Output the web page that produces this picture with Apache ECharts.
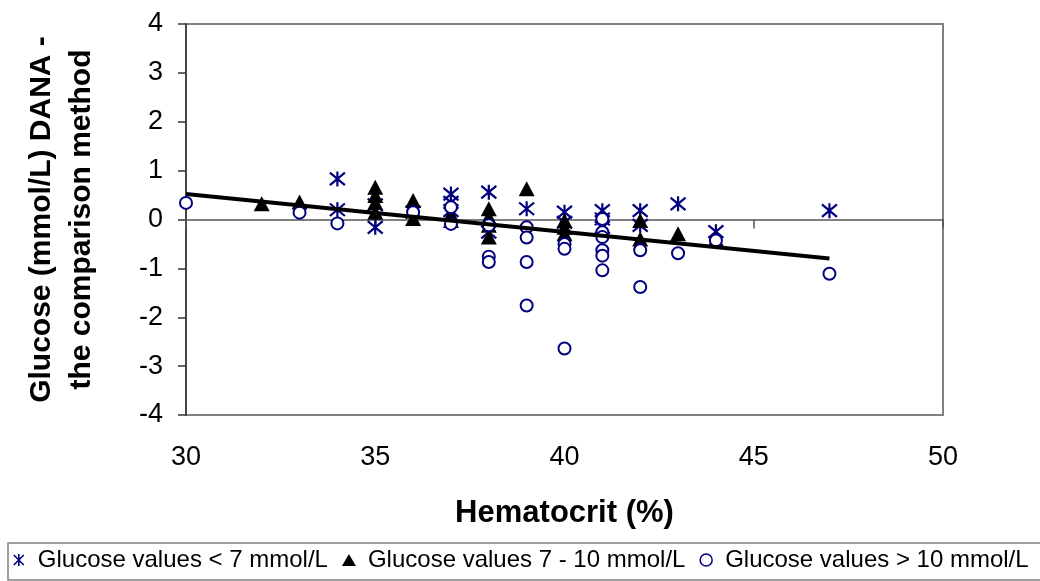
<!DOCTYPE html>
<html>
<head>
<meta charset="utf-8">
<script src="https://cdn.jsdelivr.net/npm/echarts@6/dist/echarts.min.js"></script>
<style>
html,body{margin:0;padding:0;background:#fff;}
#chart{width:1040px;height:581px;}
</style>
</head>
<body>
<div id="chart"></div>
<script>
// Hematocrit (%) vs glucose difference (mmol/L)
var seriesNames = ['Glucose values < 7 mmol/L', 'Glucose values 7 - 10 mmol/L', 'Glucose values > 10 mmol/L'];
var xTicks = [30, 35, 40, 45, 50];
var yTicks = [-4, -3, -2, -1, 0, 1, 2, 3, 4];

var lowGlucose = [
  [34, 0.83], [34, 0.2], [35, -0.16], [35, 0.3], [36, 0.15], [37, 0.52], [37, 0.35], [37, 0.18],
  [38, 0.56], [38, -0.26], [39, 0.22], [40, 0.15], [40, -0.06], [41, 0.18], [41, 0.01], [41, -0.16],
  [42, 0.18], [42, -0.12], [43, 0.32], [44, -0.25], [47, 0.18]
];
var midGlucose = [
  [32, 0.32], [33, 0.36], [35, 0.66], [35, 0.49], [35, 0.35], [35, 0.15], [36, 0.39], [36, 0.18], [36, 0.02],
  [37, 0.1], [37, -0.02], [38, 0.22], [38, 0.05], [38, -0.12], [38, -0.36], [39, 0.63],
  [40, -0.02], [40, -0.16], [40, -0.29], [42, -0.02], [42, -0.4], [43, -0.29], [44, -0.4]
];
var highGlucose = [
  [30, 0.34], [33, 0.14], [34, -0.08], [36, 0.15], [37, 0.25], [37, -0.09],
  [38, -0.12], [38, -0.76], [38, -0.87], [39, -0.16], [39, -0.37], [39, -0.87], [39, -1.76],
  [40, -0.5], [40, -0.6], [40, -2.64], [41, 0.01], [41, -0.26], [41, -0.36], [41, -0.63], [41, -0.74], [41, -1.04],
  [42, -0.63], [42, -1.38], [43, -0.69], [44, -0.43], [47, -1.11]
];
var trendLine = [[30, 0.52], [47, -0.80]];

var FONT = "'Liberation Sans', Arial, sans-serif";
var NAVY = '#000080';
var asterisk = 'path://M0,0L10,10M10,0L0,10M5,-1L5,11';

var chart = echarts.init(document.getElementById('chart'), null, {renderer: 'canvas'});
chart.setOption({
  animation: false,
  backgroundColor: '#ffffff',
  textStyle: {fontFamily: FONT},
  grid: {left: 186, right: 97, top: 24, bottom: 166, show: true, borderColor: '#808080', borderWidth: 2, backgroundColor: 'transparent'},
  legend: {
    left: 8, top: 543, width: 1200, orient: 'horizontal',
    padding: [5, 40, 8, 5],
    borderColor: '#808080', borderWidth: 1.5,
    itemWidth: 14, itemHeight: 12, itemGap: 14,
    textStyle: {fontFamily: FONT, fontSize: 24, color: '#000', padding: [0, 0, 0, 7]},
    data: [
      {name: seriesNames[0], icon: asterisk, itemStyle: {color: NAVY, borderColor: NAVY, borderWidth: 1.6, opacity: 1}},
      {name: seriesNames[1], icon: 'triangle', itemStyle: {color: '#000', borderWidth: 0, opacity: 1}},
      {name: seriesNames[2], icon: 'circle', itemStyle: {color: '#fff', borderColor: NAVY, borderWidth: 1.5, opacity: 1}}
    ]
  },
  xAxis: [
    {
      type: 'value', min: 30, max: 50, interval: 5, position: 'bottom',
      axisLine: {show: false, onZero: false},
      axisTick: {show: false},
      splitLine: {show: false},
      axisLabel: {fontSize: 27, color: '#000', margin: 29, fontFamily: FONT},
      name: 'Hematocrit (%)', nameLocation: 'middle', nameGap: 83,
      nameTextStyle: {fontSize: 31, fontWeight: 'bold', color: '#000', fontFamily: FONT}
    },
    {
      type: 'value', min: 30, max: 50, interval: 5, position: 'top',
      axisLine: {show: true, onZero: true, lineStyle: {color: '#555', width: 1.5}},
      axisTick: {show: true, inside: true, length: 9, lineStyle: {color: '#555', width: 1.5}},
      axisLabel: {show: false},
      splitLine: {show: false}
    }
  ],
  yAxis: {
    type: 'value', min: -4, max: 4, interval: 1,
    axisLine: {show: true, onZero: false, lineStyle: {color: '#333', width: 1.5}},
    axisTick: {show: true, length: 8, lineStyle: {color: '#333', width: 1.5}},
    splitLine: {show: false},
    axisLabel: {fontSize: 27, color: '#000', margin: 23, fontFamily: FONT},
    name: 'Glucose (mmol/L) DANA -\nthe comparison method', nameLocation: 'middle', nameRotate: 90, nameGap: 84,
    nameTextStyle: {fontSize: 30, fontWeight: 'bold', color: '#000', lineHeight: 40, fontFamily: FONT}
  },
  series: [
    {
      name: seriesNames[0], type: 'scatter', xAxisIndex: 0, data: lowGlucose,
      symbol: asterisk, symbolSize: 15,
      itemStyle: {color: NAVY, borderColor: NAVY, borderWidth: 2.2, opacity: 1}
    },
    {
      name: seriesNames[1], type: 'scatter', xAxisIndex: 0, data: midGlucose,
      symbol: 'triangle', symbolSize: [16, 15],
      itemStyle: {color: '#000', opacity: 1}
    },
    {
      name: seriesNames[2], type: 'scatter', xAxisIndex: 0, data: highGlucose,
      symbol: 'emptyCircle', symbolSize: 12,
      itemStyle: {color: NAVY, borderColor: NAVY, borderWidth: 2, opacity: 1}
    },
    {
      name: 'trend', type: 'line', xAxisIndex: 0, data: trendLine,
      symbol: 'none', silent: true,
      lineStyle: {color: '#000', width: 4}, z: 5
    }
  ]
});
</script>
</body>
</html>
